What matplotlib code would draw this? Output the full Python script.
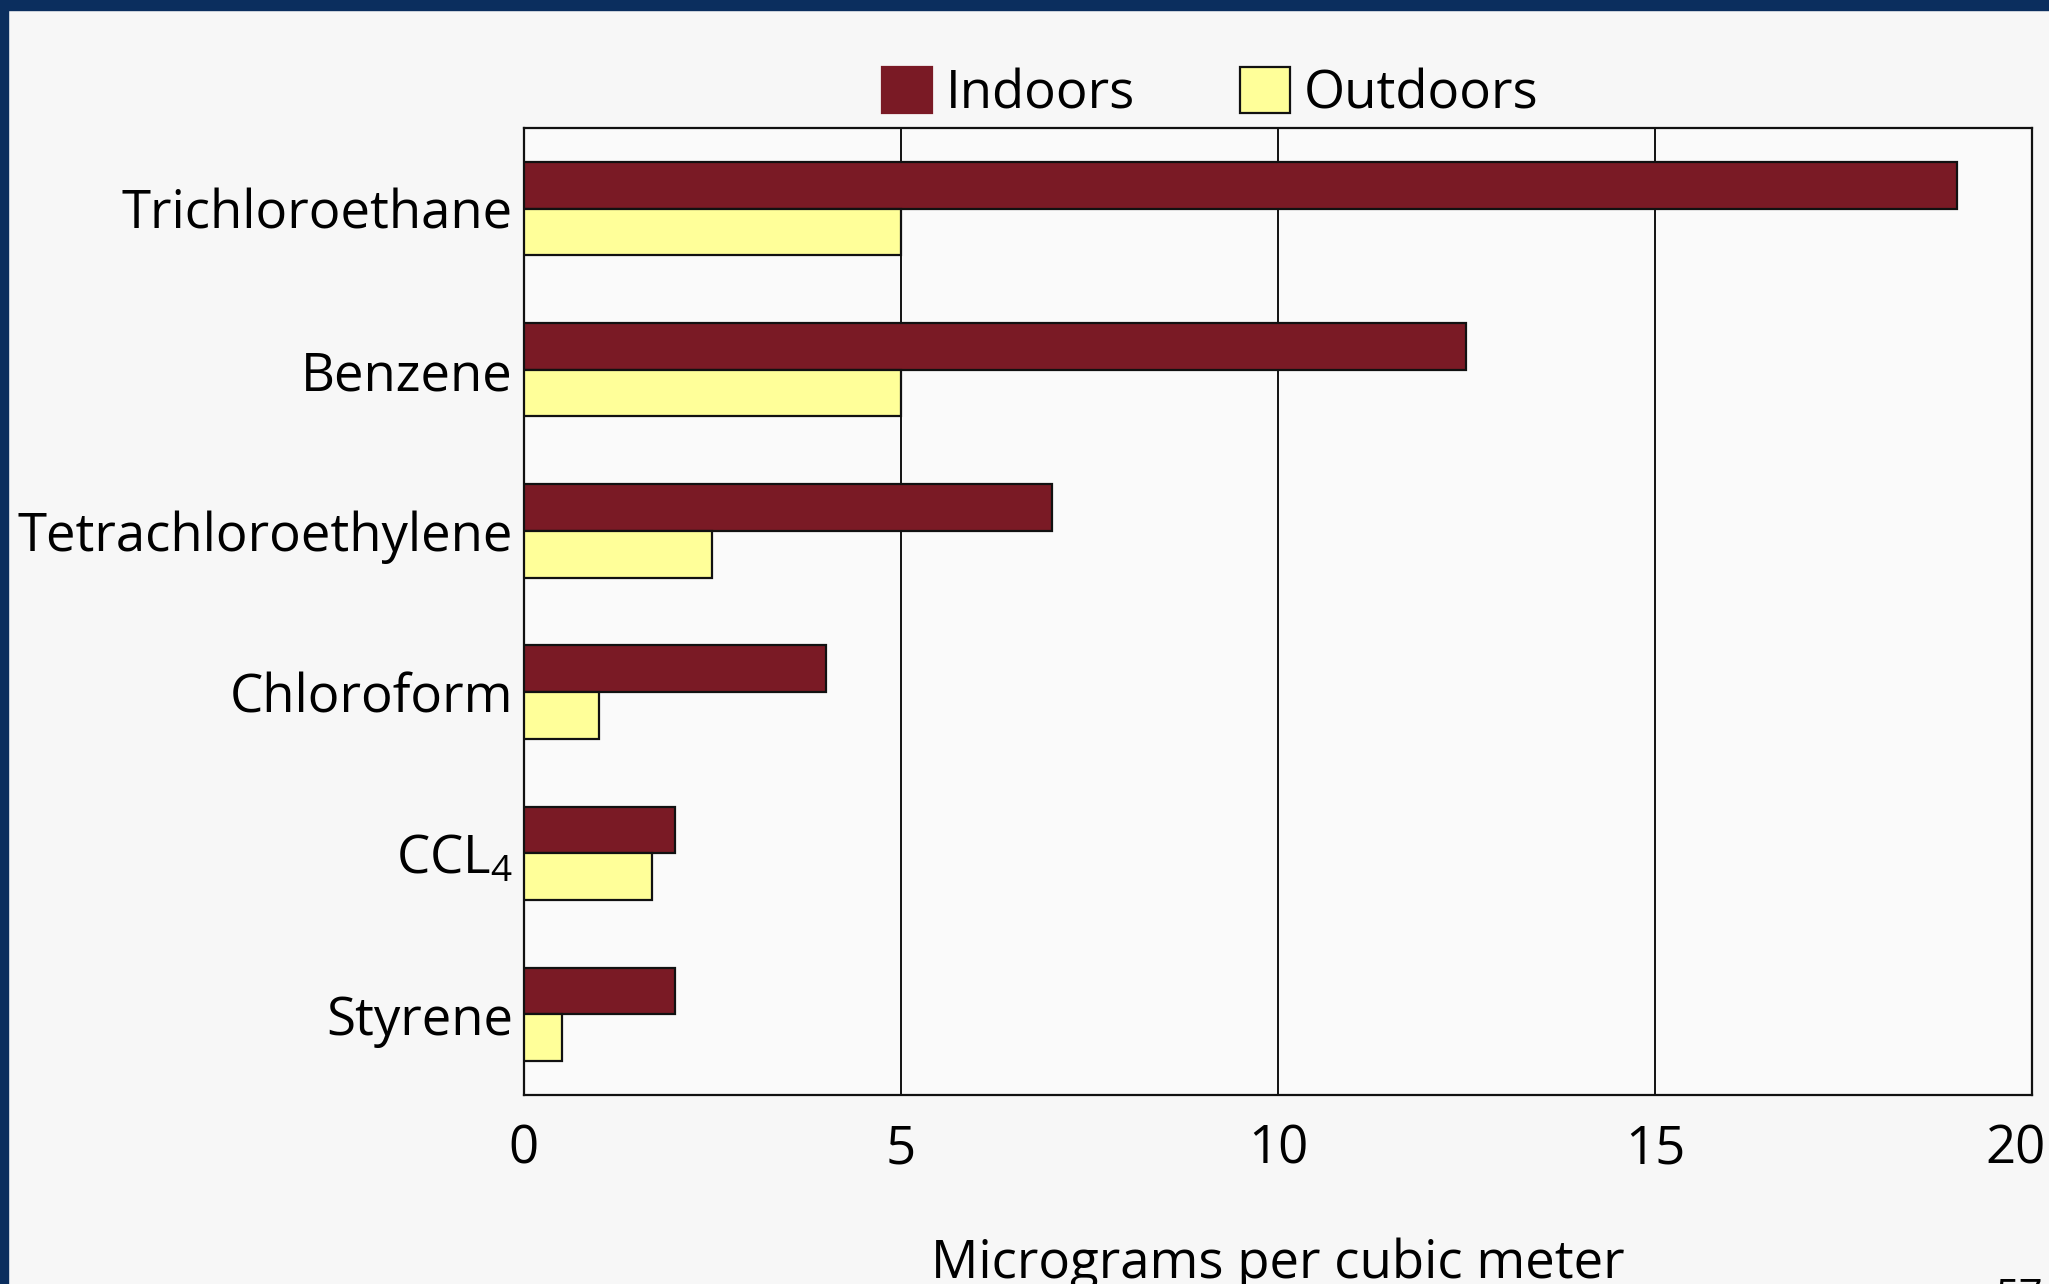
import numpy as np
import matplotlib
matplotlib.use("Agg")
import matplotlib.pyplot as plt
import matplotlib.transforms as mtransforms
from matplotlib.patches import Rectangle

# data
compounds = ["Trichloroethane", "Benzene", "Tetrachloroethylene",
             "Chloroform", "CCL$_4$", "Styrene"]
indoors = [19.0, 12.5, 7.0, 4.0, 2.0, 2.0]
outdoors = [5.0, 5.0, 2.5, 1.0, 1.7, 0.5]
xticks = [0, 5, 10, 15, 20]

plt.rcParams['font.family'] = ['Open Sans', 'DejaVu Sans']
plt.rcParams['mathtext.default'] = 'regular'

fig = plt.figure(figsize=(20.49, 12.84), dpi=100, facecolor='#f7f7f7')
ax = fig.add_axes([0.2557, 0.1472, 0.736, 0.7531], facecolor='#fafafa')

y = np.arange(len(compounds))
h = 0.29
ax.barh(y - h / 2, indoors, height=h, color='#7a1a25', edgecolor='#111111',
        linewidth=1.6, label='Indoors', zorder=3)
ax.barh(y + h / 2, outdoors, height=h, color='#ffff99', edgecolor='#111111',
        linewidth=1.6, label='Outdoors', zorder=3)

ax.set_xlim(0, 20)
ax.set_ylim(len(compounds) - 0.5, -0.5)
ax.set_xticks(xticks)
ax.set_xticklabels([str(t) for t in xticks])
ax.set_yticks(y)
ax.set_yticklabels(compounds)
ax.tick_params(axis='both', length=0, labelsize=38)
ax.tick_params(axis='x', pad=20)
ax.tick_params(axis='y', pad=8)
ax.grid(axis='x', color='#111111', linewidth=1.4, zorder=1)
for s in ax.spines.values():
    s.set_linewidth(1.6)
    s.set_color('#111111')

# last tick label sits a little left so it stays on the slide
last = ax.get_xticklabels()[-1]
last.set_transform(last.get_transform() + mtransforms.ScaledTranslation(-0.16, 0, fig.dpi_scale_trans))

ax.set_xlabel('Micrograms per cubic meter', fontsize=38, labelpad=44)

leg = ax.legend(loc='center', bbox_to_anchor=(0.455, 1.035), ncol=2,
                frameon=False, fontsize=38, handlelength=0.95, handleheight=0.95,
                handletextpad=0.25, columnspacing=2.0, borderaxespad=0,
                borderpad=0)
leg.legend_handles[0].set_edgecolor('#7a1a25')

# dark blue slide frame
fig.patches.append(Rectangle((0, 1 - 10 / 1284), 1, 10 / 1284, transform=fig.transFigure,
                             color='#0b2e5e', zorder=10))
fig.patches.append(Rectangle((0, 0), 8 / 2049, 1, transform=fig.transFigure,
                             color='#0b2e5e', zorder=10))
fig.text(0.974, -0.027, '57', fontsize=30, ha='left', va='bottom')

fig.savefig('out.png', dpi=100, facecolor=fig.get_facecolor())
